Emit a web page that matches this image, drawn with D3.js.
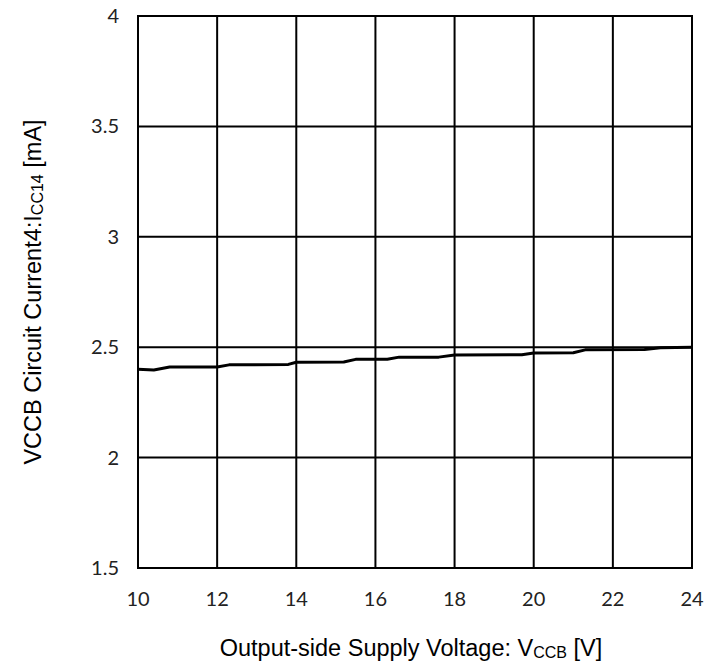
<!DOCTYPE html>
<html>
<head>
<meta charset="utf-8">
<script src="https://cdn.jsdelivr.net/npm/d3@7"></script>
<style>
  html, body { margin: 0; padding: 0; background: #fff; }
  #chart { width: 705px; height: 667px; }
  .tick-label { font-family: Lato, "Open Sans", sans-serif; font-size: 20px; fill: #222; }
</style>
</head>
<body>
<div id="chart"></div>
<script>
// supply voltage V_CCB [V]
const vccb = [10, 10.4, 10.8, 12.0, 12.3, 13.8, 14.0, 15.2, 15.5, 16.3, 16.6, 17.6, 18.0, 19.7, 20.0, 21.0, 21.3, 22.8, 23.2, 24];
// circuit current I_CC14 [mA]
const icc14 = [2.400, 2.397, 2.410, 2.410, 2.420, 2.422, 2.432, 2.433, 2.445, 2.445, 2.455, 2.455, 2.465, 2.466, 2.474, 2.475, 2.488, 2.490, 2.498, 2.500];

const xTicks = [10, 12, 14, 16, 18, 20, 22, 24];
const yTicks = [1.5, 2, 2.5, 3, 3.5, 4];

const width = 705, height = 667;
const margin = { top: 16, right: 13, bottom: 99, left: 138 };
const innerWidth = width - margin.left - margin.right;
const innerHeight = height - margin.top - margin.bottom;

const svg = d3.select('#chart').append('svg')
    .attr('width', width)
    .attr('height', height);

const g = svg.append('g')
    .attr('transform', `translate(${margin.left},${margin.top})`);

const xScale = d3.scaleLinear().domain([10, 24]).range([0, innerWidth]);
const yScale = d3.scaleLinear().domain([1.5, 4]).range([innerHeight, 0]);

// grid
g.append('g')
    .selectAll('line')
    .data(xTicks)
    .enter()
    .append('line')
    .attr('x1', d => xScale(d)).attr('x2', d => xScale(d))
    .attr('y1', 0).attr('y2', innerHeight)
    .attr('stroke', '#000').attr('stroke-width', 2);

g.append('g')
    .selectAll('line')
    .data(yTicks)
    .enter()
    .append('line')
    .attr('x1', 0).attr('x2', innerWidth)
    .attr('y1', d => yScale(d)).attr('y2', d => yScale(d))
    .attr('stroke', '#000').attr('stroke-width', 2);

g.append('rect')
    .attr('width', innerWidth).attr('height', innerHeight)
    .attr('fill', 'none').attr('stroke', '#000').attr('stroke-width', 2);

// tick labels
g.append('g')
    .selectAll('text')
    .data(xTicks)
    .enter()
    .append('text')
    .attr('class', 'tick-label')
    .attr('x', d => xScale(d))
    .attr('y', innerHeight + 38)
    .attr('text-anchor', 'middle')
    .text(d => d);

g.append('g')
    .selectAll('text')
    .data(yTicks)
    .enter()
    .append('text')
    .attr('class', 'tick-label')
    .attr('x', -19)
    .attr('y', d => yScale(d) + 7)
    .attr('text-anchor', 'end')
    .text(d => d);

// data line
const line = d3.line()
    .x(d => xScale(d[0]))
    .y(d => yScale(d[1]));

g.append('path')
    .datum(vccb.map((v, i) => [v, icc14[i]]))
    .attr('fill', 'none')
    .attr('stroke', '#000')
    .attr('stroke-width', 3)
    .attr('stroke-linejoin', 'round')
    .attr('d', line);

// x axis title
const xt = svg.append('text')
    .attr('x', 411)
    .attr('y', 656)
    .attr('text-anchor', 'middle')
    .attr('font-family', '"Liberation Sans", Arial, sans-serif')
    .attr('font-size', 23.5)
    .attr('fill', '#000');
xt.append('tspan').text('Output-side Supply Voltage: V');
xt.append('tspan').attr('font-size', 16).attr('dy', 2).text('CCB');
xt.append('tspan').attr('dy', -2).text(' [V]');

// y axis title
const yt = svg.append('text')
    .attr('transform', 'translate(41,292) rotate(-90)')
    .attr('text-anchor', 'middle')
    .attr('font-family', '"Liberation Sans", Arial, sans-serif')
    .attr('font-size', 23.5)
    .attr('fill', '#000');
yt.append('tspan').text('VCCB Circuit Current4:I');
yt.append('tspan').attr('font-size', 16).attr('dy', 2).text('CC14');
yt.append('tspan').attr('dy', -2).text(' [mA]');
</script>
</body>
</html>
